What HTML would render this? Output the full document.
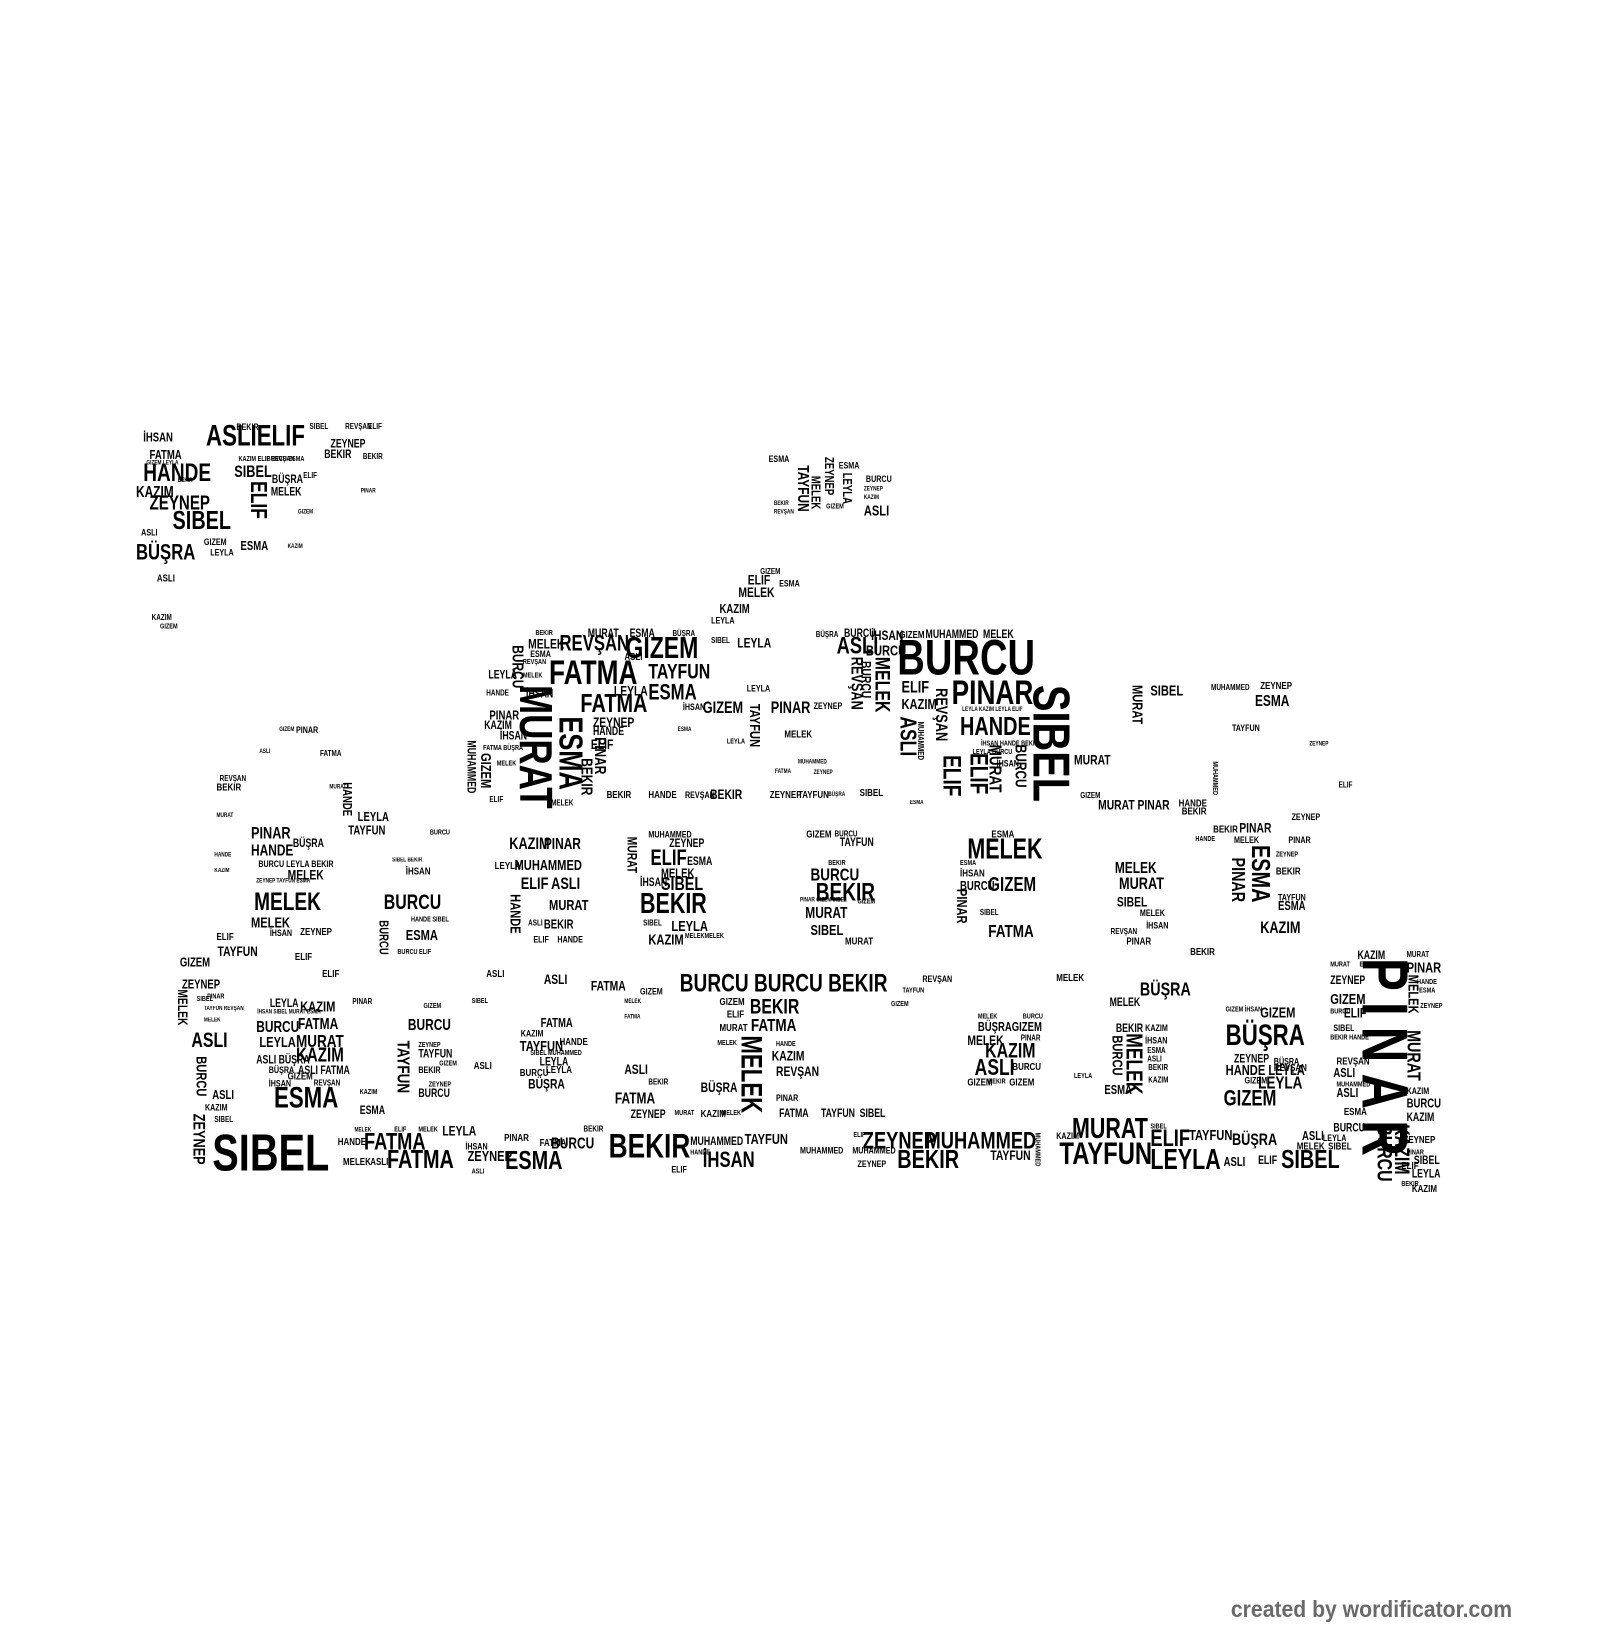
<!DOCTYPE html>
<html><head><meta charset="utf-8">
<style>
html,body{margin:0;padding:0;background:#fff;width:1600px;height:1640px;overflow:hidden}
#c{position:absolute;left:0;top:0;width:1530px;height:1570px;transform:scale(1.0458);transform-origin:0 0}
#c span{position:absolute;font-family:"Liberation Sans Narrow","Liberation Sans",sans-serif;font-weight:bold;line-height:1;white-space:nowrap;color:#000;transform:scaleX(.76);transform-origin:0 0}
#c span.v{writing-mode:vertical-rl;transform:scaleY(.76)}
#c span.f{color:#6a6a6a;transform:scaleX(.92)}
</style></head><body><div id="c">
<!-- top-left cluster -->
<span style="left:197px;top:403px;font-size:28px">ASLIELIF</span>
<span style="left:137px;top:441px;font-size:24px">HANDE</span>
<span style="left:143px;top:472px;font-size:19px">ZEYNEP</span>
<span style="left:165px;top:486px;font-size:25px">SIBEL</span>
<span style="left:130px;top:518px;font-size:21px">BÜŞRA</span>
<span style="left:130px;top:463px;font-size:15px">KAZIM</span>
<span style="left:224px;top:444px;font-size:16px">SIBEL</span>
<span style="left:143px;top:429px;font-size:12px">FATMA</span>
<span style="left:137px;top:412px;font-size:12px">İHSAN</span>
<span class="v" style="left:236px;top:460px;font-size:22px">ELIF</span>
<span style="left:226px;top:404px;font-size:9px">BEKIR</span>
<span style="left:296px;top:404px;font-size:8px">SIBEL</span>
<span style="left:330px;top:404px;font-size:8px">REVŞAN</span>
<span style="left:352px;top:404px;font-size:8px">ELIF</span>
<span style="left:316px;top:420px;font-size:11px">ZEYNEP</span>
<span style="left:310px;top:430px;font-size:11px">BEKIR</span>
<span style="left:347px;top:433px;font-size:8px">BEKIR</span>
<span style="left:259px;top:466px;font-size:11px">MELEK</span>
<span style="left:260px;top:454px;font-size:11px">BÜŞRA</span>
<span style="left:230px;top:516px;font-size:12px">ESMA</span>
<span style="left:195px;top:514px;font-size:9px">GIZEM</span>
<span style="left:135px;top:505px;font-size:9px">ASLI</span>
<span style="left:201px;top:524px;font-size:9px">LEYLA</span>
<span style="left:150px;top:549px;font-size:10px">ASLI</span>
<span style="left:145px;top:587px;font-size:8px">KAZIM</span>
<span style="left:153px;top:596px;font-size:7px">GIZEM</span>
<span style="left:290px;top:451px;font-size:8px">ELIF</span>
<span style="left:255px;top:436px;font-size:7px">BURCU ESMA</span>
<span style="left:228px;top:436px;font-size:7px">KAZIM ELIF REVŞAN</span>
<span style="left:140px;top:440px;font-size:6px">GIZEM LEYLA</span>
<span style="left:170px;top:457px;font-size:6px">BEKIR</span>
<span style="left:345px;top:467px;font-size:6px">PINAR</span>
<span style="left:285px;top:487px;font-size:6px">GIZEM</span>
<span style="left:275px;top:520px;font-size:6px">KAZIM</span>
<!-- top middle -->
<span style="left:735px;top:435px;font-size:9px">ESMA</span>
<span class="v" style="left:787px;top:437px;font-size:12px">ZEYNEP</span>
<span style="left:802px;top:441px;font-size:9px">ESMA</span>
<span class="v" style="left:760px;top:445px;font-size:15px">TAYFUN</span>
<span class="v" style="left:774px;top:455px;font-size:12px">MELEK</span>
<span class="v" style="left:804px;top:452px;font-size:12px">LEYLA</span>
<span style="left:828px;top:454px;font-size:9px">BURCU</span>
<span style="left:826px;top:481px;font-size:14px">ASLI</span>
<span style="left:790px;top:481px;font-size:7px">GIZEM</span>
<span style="left:740px;top:479px;font-size:6px">BEKIR</span>
<span style="left:740px;top:487px;font-size:6px">REVŞAN</span>
<span style="left:826px;top:465px;font-size:6px">ZEYNEP</span>
<span style="left:826px;top:473px;font-size:6px">KAZIM</span>
<!-- chimney -->
<span style="left:727px;top:543px;font-size:8px">GIZEM</span>
<span style="left:715px;top:548px;font-size:13px">ELIF</span>
<span style="left:745px;top:554px;font-size:9px">ESMA</span>
<span style="left:706px;top:560px;font-size:13px">MELEK</span>
<span style="left:688px;top:576px;font-size:12px">KAZIM</span>
<span style="left:680px;top:589px;font-size:9px">LEYLA</span>
<!-- main upper left -->
<span style="left:512px;top:602px;font-size:7px">BEKIR</span>
<span style="left:562px;top:601px;font-size:11px">MURAT</span>
<span style="left:602px;top:601px;font-size:11px">ESMA</span>
<span style="left:643px;top:602px;font-size:8px">BÜŞRA</span>
<span style="left:505px;top:609px;font-size:13px">MELEK</span>
<span style="left:507px;top:621px;font-size:9px">ESMA</span>
<span style="left:535px;top:605px;font-size:21px">REVŞAN</span>
<span style="left:597px;top:624px;font-size:10px">ASLI</span>
<span style="left:598px;top:606px;font-size:29px">GIZEM</span>
<span style="left:680px;top:609px;font-size:8px">SIBEL</span>
<span style="left:705px;top:608px;font-size:13px">LEYLA</span>
<span class="v" style="left:487px;top:617px;font-size:15px">BURCU</span>
<span style="left:525px;top:626px;font-size:33px">FATMA</span>
<span style="left:620px;top:633px;font-size:20px">TAYFUN</span>
<span style="left:467px;top:641px;font-size:11px">LEYLA</span>
<span style="left:503px;top:659px;font-size:11px">İHSAN</span>
<span style="left:587px;top:654px;font-size:13px">LEYLA</span>
<span style="left:620px;top:652px;font-size:21px">ESMA</span>
<span class="v" style="left:489px;top:655px;font-size:44px">MURAT</span>
<span style="left:555px;top:661px;font-size:25px">FATMA</span>
<span style="left:567px;top:684px;font-size:13px">ZEYNEP</span>
<span style="left:567px;top:695px;font-size:11px">HANDE</span>
<span style="left:565px;top:705px;font-size:13px">ELIF</span>
<span class="v" style="left:530px;top:685px;font-size:32px">ESMA</span>
<span class="v" style="left:566px;top:705px;font-size:15px">PINAR</span>
<span class="v" style="left:553px;top:725px;font-size:15px">BEKIR</span>
<span class="v" style="left:458px;top:720px;font-size:14px">GIZEM</span>
<span class="v" style="left:444px;top:708px;font-size:11px">MUHAMMED</span>
<span style="left:468px;top:678px;font-size:12px">PINAR</span>
<span style="left:463px;top:689px;font-size:11px">KAZIM</span>
<span style="left:478px;top:699px;font-size:11px">İHSAN</span>
<span style="left:465px;top:659px;font-size:8px">HANDE</span>
<span style="left:462px;top:712px;font-size:7px">FATMA BÜŞRA</span>
<span style="left:475px;top:727px;font-size:7px">MELEK</span>
<span style="left:500px;top:630px;font-size:7px">REVŞAN</span>
<span style="left:500px;top:643px;font-size:7px">MELEK</span>
<!-- center -->
<span style="left:653px;top:672px;font-size:9px">İHSAN</span>
<span style="left:672px;top:670px;font-size:16px">GIZEM</span>
<span style="left:737px;top:670px;font-size:16px">PINAR</span>
<span class="v" style="left:715px;top:673px;font-size:14px">TAYFUN</span>
<span style="left:778px;top:671px;font-size:9px">ZEYNEP</span>
<span style="left:714px;top:654px;font-size:9px">LEYLA</span>
<span style="left:750px;top:698px;font-size:10px">MELEK</span>
<span style="left:695px;top:706px;font-size:7px">LEYLA</span>
<span style="left:648px;top:695px;font-size:6px">ESMA</span>
<span style="left:763px;top:726px;font-size:6px">MUHAMMED</span>
<span style="left:741px;top:735px;font-size:6px">FATMA</span>
<span style="left:778px;top:736px;font-size:6px">ZEYNEP</span>
<!-- upper bottom row -->
<span style="left:580px;top:756px;font-size:10px">BEKIR</span>
<span style="left:620px;top:756px;font-size:10px">HANDE</span>
<span style="left:655px;top:756px;font-size:9px">REVŞAN</span>
<span style="left:679px;top:753px;font-size:13px">BEKIR</span>
<span style="left:736px;top:756px;font-size:10px">ZEYNEP</span>
<span style="left:763px;top:756px;font-size:10px">TAYFUN</span>
<span style="left:792px;top:757px;font-size:6px">BÜŞRA</span>
<span style="left:822px;top:754px;font-size:10px">SIBEL</span>
<span style="left:527px;top:764px;font-size:8px">MELEK</span>
<span style="left:468px;top:761px;font-size:8px">ELIF</span>
<span style="left:870px;top:765px;font-size:6px">ESMA</span>
<!-- main upper right -->
<span style="left:780px;top:603px;font-size:8px">BÜŞRA</span>
<span style="left:807px;top:601px;font-size:11px">BURCU</span>
<span style="left:833px;top:601px;font-size:13px">İHSAN</span>
<span style="left:860px;top:603px;font-size:10px">GIZEM</span>
<span style="left:885px;top:602px;font-size:11px">MUHAMMED</span>
<span style="left:940px;top:602px;font-size:11px">MELEK</span>
<span style="left:800px;top:606px;font-size:23px">ASLI</span>
<span style="left:828px;top:615px;font-size:14px">BURCU</span>
<span style="left:858px;top:606px;font-size:48px">BURCU</span>
<span class="v" style="left:810px;top:628px;font-size:16px">REVŞAN</span>
<span class="v" style="left:822px;top:632px;font-size:13px">BURCU</span>
<span class="v" style="left:833px;top:628px;font-size:20px">MELEK</span>
<span style="left:862px;top:650px;font-size:16px">ELIF</span>
<span style="left:862px;top:666px;font-size:14px">KAZIM</span>
<span class="v" style="left:857px;top:685px;font-size:22px">ASLI</span>
<span class="v" style="left:891px;top:658px;font-size:16px">REVŞAN</span>
<span style="left:910px;top:645px;font-size:33px">PINAR</span>
<span style="left:918px;top:683px;font-size:25px">HANDE</span>
<span class="v" style="left:980px;top:655px;font-size:50px">SIBEL</span>
<span class="v" style="left:897px;top:722px;font-size:24px">ELIF</span>
<span class="v" style="left:923px;top:720px;font-size:24px">ELIF</span>
<span class="v" style="left:943px;top:712px;font-size:17px">MURAT</span>
<span class="v" style="left:968px;top:712px;font-size:15px">BURCU</span>
<span style="left:953px;top:726px;font-size:9px">İHSAN</span>
<span class="v" style="left:876px;top:690px;font-size:8px">MUHAMMED</span>
<span style="left:920px;top:676px;font-size:6px">LEYLA KAZIM LEYLA ELIF</span>
<span style="left:938px;top:708px;font-size:7px">İHSAN HANDE BEKIR</span>
<span style="left:930px;top:716px;font-size:7px">LEYLA BURCU</span>
<!-- right outliers -->
<span class="v" style="left:1081px;top:655px;font-size:14px">MURAT</span>
<span style="left:1100px;top:653px;font-size:14px">SIBEL</span>
<span style="left:1158px;top:654px;font-size:8px">MUHAMMED</span>
<span style="left:1205px;top:652px;font-size:10px">ZEYNEP</span>
<span style="left:1200px;top:663px;font-size:15px">ESMA</span>
<span style="left:1178px;top:692px;font-size:9px">TAYFUN</span>
<span style="left:1252px;top:709px;font-size:6px">ZEYNEP</span>
<span style="left:1027px;top:720px;font-size:13px">MURAT</span>
<span style="left:1033px;top:757px;font-size:8px">GIZEM</span>
<span style="left:1050px;top:763px;font-size:13px">MURAT PINAR</span>
<span style="left:1127px;top:764px;font-size:10px">HANDE</span>
<span style="left:1130px;top:772px;font-size:10px">BEKIR</span>
<span style="left:1280px;top:747px;font-size:8px">ELIF</span>
<span class="v" style="left:1158px;top:728px;font-size:7px">MUHAMMED</span>
<!-- lower left building -->
<span style="left:267px;top:695px;font-size:6px">GIZEM</span>
<span style="left:283px;top:694px;font-size:9px">PINAR</span>
<span style="left:248px;top:716px;font-size:6px">ASLI</span>
<span style="left:306px;top:717px;font-size:8px">FATMA</span>
<span style="left:210px;top:741px;font-size:8px">REVŞAN</span>
<span style="left:207px;top:749px;font-size:10px">BEKIR</span>
<span style="left:315px;top:750px;font-size:6px">MURAT</span>
<span class="v" style="left:326px;top:748px;font-size:12px">HANDE</span>
<span style="left:342px;top:775px;font-size:12px">LEYLA</span>
<span style="left:333px;top:788px;font-size:12px">TAYFUN</span>
<span style="left:207px;top:777px;font-size:6px">MURAT</span>
<span style="left:411px;top:793px;font-size:7px">BURCU</span>
<span style="left:240px;top:790px;font-size:16px">PINAR</span>
<span style="left:280px;top:802px;font-size:11px">BÜŞRA</span>
<span style="left:240px;top:806px;font-size:15px">HANDE</span>
<span style="left:247px;top:822px;font-size:9px">BURCU LEYLA BEKIR</span>
<span style="left:275px;top:830px;font-size:13px">MELEK</span>
<span style="left:243px;top:851px;font-size:24px">MELEK</span>
<span style="left:240px;top:875px;font-size:14px">MELEK</span>
<span style="left:258px;top:888px;font-size:9px">İHSAN</span>
<span style="left:287px;top:887px;font-size:10px">ZEYNEP</span>
<span style="left:207px;top:892px;font-size:10px">ELIF</span>
<span style="left:208px;top:903px;font-size:13px">TAYFUN</span>
<span style="left:282px;top:911px;font-size:10px">ELIF</span>
<span style="left:308px;top:927px;font-size:10px">ELIF</span>
<span style="left:245px;top:840px;font-size:6px">ZEYNEP TAYFUN ESMA</span>
<span style="left:205px;top:815px;font-size:6px">HANDE</span>
<span style="left:205px;top:830px;font-size:6px">KAZIM</span>
<!-- window 1 -->
<span style="left:367px;top:853px;font-size:20px">BURCU</span>
<span style="left:388px;top:829px;font-size:10px">İHSAN</span>
<span style="left:375px;top:820px;font-size:6px">SIBEL BEKIR</span>
<span class="v" style="left:361px;top:880px;font-size:12px">BURCU</span>
<span style="left:388px;top:887px;font-size:14px">ESMA</span>
<span style="left:393px;top:876px;font-size:7px">HANDE SIBEL</span>
<span style="left:380px;top:907px;font-size:7px">BURCU ELIF</span>
<!-- window 2 -->
<span style="left:487px;top:800px;font-size:16px">KAZIM</span>
<span style="left:520px;top:800px;font-size:15px">PINAR</span>
<span style="left:473px;top:824px;font-size:10px">LEYLA</span>
<span style="left:492px;top:820px;font-size:14px">MUHAMMED</span>
<span style="left:498px;top:838px;font-size:16px">ELIF</span>
<span style="left:527px;top:838px;font-size:16px">ASLI</span>
<span class="v" style="left:486px;top:855px;font-size:14px">HANDE</span>
<span style="left:525px;top:858px;font-size:14px">MURAT</span>
<span style="left:520px;top:878px;font-size:12px">BEKIR</span>
<span style="left:505px;top:879px;font-size:8px">ASLI</span>
<span style="left:510px;top:894px;font-size:9px">ELIF</span>
<span style="left:533px;top:894px;font-size:9px">HANDE</span>
<!-- window 3 -->
<span style="left:620px;top:794px;font-size:9px">MUHAMMED</span>
<span style="left:640px;top:802px;font-size:11px">ZEYNEP</span>
<span style="left:622px;top:810px;font-size:21px">ELIF</span>
<span style="left:657px;top:819px;font-size:11px">ESMA</span>
<span class="v" style="left:598px;top:800px;font-size:13px">MURAT</span>
<span style="left:632px;top:829px;font-size:12px">MELEK</span>
<span style="left:612px;top:839px;font-size:11px">İHSAN</span>
<span style="left:632px;top:836px;font-size:18px">SIBEL</span>
<span style="left:612px;top:851px;font-size:27px">BEKIR</span>
<span style="left:642px;top:878px;font-size:14px">LEYLA</span>
<span style="left:620px;top:891px;font-size:14px">KAZIM</span>
<span style="left:615px;top:879px;font-size:8px">SIBEL</span>
<span style="left:655px;top:892px;font-size:7px">MELEKMELEK</span>
<!-- window 4 -->
<span style="left:771px;top:794px;font-size:10px">GIZEM</span>
<span style="left:798px;top:794px;font-size:8px">BURCU</span>
<span style="left:803px;top:801px;font-size:11px">TAYFUN</span>
<span style="left:792px;top:822px;font-size:7px">BEKIR</span>
<span style="left:775px;top:828px;font-size:17px">BURCU</span>
<span style="left:780px;top:842px;font-size:24px">BEKIR</span>
<span style="left:770px;top:866px;font-size:15px">MURAT</span>
<span style="left:775px;top:882px;font-size:14px">SIBEL</span>
<span style="left:808px;top:896px;font-size:10px">MURAT</span>
<span style="left:820px;top:859px;font-size:7px">GIZEM</span>
<span style="left:765px;top:858px;font-size:6px">PINAR GIZEM SIBEL</span>
<!-- window 5 -->
<span style="left:948px;top:794px;font-size:10px">ESMA</span>
<span style="left:925px;top:799px;font-size:27px">MELEK</span>
<span style="left:918px;top:831px;font-size:10px">İHSAN</span>
<span style="left:918px;top:841px;font-size:12px">BURCU</span>
<span style="left:945px;top:837px;font-size:19px">GIZEM</span>
<span class="v" style="left:913px;top:850px;font-size:14px">PINAR</span>
<span style="left:945px;top:882px;font-size:17px">FATMA</span>
<span style="left:937px;top:869px;font-size:8px">SIBEL</span>
<span style="left:918px;top:822px;font-size:7px">ESMA</span>
<!-- window 6 -->
<span style="left:1066px;top:823px;font-size:15px">MELEK</span>
<span style="left:1070px;top:838px;font-size:16px">MURAT</span>
<span style="left:1068px;top:856px;font-size:13px">SIBEL</span>
<span style="left:1090px;top:869px;font-size:9px">MELEK</span>
<span style="left:1096px;top:881px;font-size:9px">İHSAN</span>
<span style="left:1077px;top:896px;font-size:10px">PINAR</span>
<span style="left:1062px;top:887px;font-size:8px">REVŞAN</span>
<!-- window 7 -->
<span style="left:1185px;top:785px;font-size:13px">PINAR</span>
<span style="left:1160px;top:789px;font-size:10px">BEKIR</span>
<span style="left:1143px;top:799px;font-size:7px">HANDE</span>
<span style="left:1180px;top:799px;font-size:9px">MELEK</span>
<span style="left:1235px;top:777px;font-size:9px">ZEYNEP</span>
<span style="left:1232px;top:799px;font-size:9px">PINAR</span>
<span class="v" style="left:1192px;top:808px;font-size:25px">ESMA</span>
<span class="v" style="left:1175px;top:820px;font-size:18px">PINAR</span>
<span style="left:1220px;top:829px;font-size:10px">BEKIR</span>
<span style="left:1222px;top:854px;font-size:9px">TAYFUN</span>
<span style="left:1222px;top:860px;font-size:12px">ESMA</span>
<span style="left:1205px;top:880px;font-size:16px">KAZIM</span>
<span style="left:1220px;top:814px;font-size:7px">ZEYNEP</span>
<!-- bottom band top -->
<span style="left:1138px;top:906px;font-size:10px">BEKIR</span>
<span style="left:1010px;top:931px;font-size:10px">MELEK</span>
<span style="left:465px;top:927px;font-size:10px">ASLI</span>
<span style="left:520px;top:930px;font-size:13px">ASLI</span>
<span style="left:565px;top:936px;font-size:13px">FATMA</span>
<span style="left:612px;top:944px;font-size:9px">GIZEM</span>
<span style="left:650px;top:929px;font-size:24px">BURCU BURCU BEKIR</span>
<span style="left:882px;top:932px;font-size:9px">REVŞAN</span>
<span style="left:863px;top:944px;font-size:7px">TAYFUN</span>
<span style="left:852px;top:957px;font-size:7px">GIZEM</span>
<span style="left:337px;top:954px;font-size:8px">PINAR</span>
<span style="left:451px;top:954px;font-size:7px">SIBEL</span>
<span style="left:1090px;top:937px;font-size:18px">BÜŞRA</span>
<span style="left:1061px;top:954px;font-size:11px">MELEK</span>
<!-- left strip -->
<span style="left:172px;top:914px;font-size:12px">GIZEM</span>
<span style="left:174px;top:935px;font-size:12px">ZEYNEP</span>
<span class="v" style="left:168px;top:946px;font-size:13px">MELEK</span>
<span style="left:188px;top:952px;font-size:7px">SIBEL</span>
<span style="left:198px;top:950px;font-size:7px">PINAR</span>
<span style="left:183px;top:985px;font-size:20px">ASLI</span>
<span class="v" style="left:186px;top:1010px;font-size:14px">BURCU</span>
<span style="left:203px;top:1041px;font-size:12px">ASLI</span>
<span style="left:196px;top:1055px;font-size:9px">KAZIM</span>
<span class="v" style="left:181px;top:1065px;font-size:16px">ZEYNEP</span>
<span style="left:205px;top:1067px;font-size:8px">SIBEL</span>
<span style="left:195px;top:962px;font-size:6px">TAYFUN REVŞAN</span>
<span style="left:195px;top:973px;font-size:6px">MELEK</span>
<!-- box A -->
<span style="left:258px;top:955px;font-size:11px">LEYLA</span>
<span style="left:287px;top:955px;font-size:14px">KAZIM</span>
<span style="left:285px;top:972px;font-size:15px">FATMA</span>
<span style="left:245px;top:975px;font-size:15px">BURCU</span>
<span style="left:248px;top:989px;font-size:14px">LEYLA</span>
<span style="left:283px;top:987px;font-size:17px">MURAT</span>
<span style="left:245px;top:1009px;font-size:11px">ASLI BÜŞRA</span>
<span style="left:283px;top:1000px;font-size:19px">KAZIM</span>
<span style="left:257px;top:1019px;font-size:9px">BÜŞRA</span>
<span style="left:285px;top:1019px;font-size:11px">ASLI FATMA</span>
<span style="left:275px;top:1025px;font-size:10px">GIZEM</span>
<span style="left:257px;top:1032px;font-size:9px">İHSAN</span>
<span style="left:300px;top:1032px;font-size:8px">REVŞAN</span>
<span style="left:262px;top:1036px;font-size:28px">ESMA</span>
<span style="left:246px;top:965px;font-size:6px">İHSAN SIBEL MURAT ESMA</span>
<!-- box B -->
<span style="left:390px;top:973px;font-size:15px">BURCU</span>
<span style="left:405px;top:959px;font-size:7px">GIZEM</span>
<span class="v" style="left:377px;top:995px;font-size:17px">TAYFUN</span>
<span style="left:400px;top:996px;font-size:7px">ZEYNEP</span>
<span style="left:400px;top:1003px;font-size:11px">TAYFUN</span>
<span style="left:420px;top:1014px;font-size:7px">GIZEM</span>
<span style="left:400px;top:1019px;font-size:9px">BEKIR</span>
<span style="left:410px;top:1034px;font-size:7px">ZEYNEP</span>
<span style="left:400px;top:1041px;font-size:11px">BURCU</span>
<span style="left:453px;top:1015px;font-size:10px">ASLI</span>
<span style="left:344px;top:1041px;font-size:7px">KAZIM</span>
<span style="left:344px;top:1057px;font-size:11px">ESMA</span>
<!-- box C -->
<span style="left:517px;top:972px;font-size:12px">FATMA</span>
<span style="left:498px;top:984px;font-size:9px">KAZIM</span>
<span style="left:497px;top:993px;font-size:14px">TAYFUN</span>
<span style="left:535px;top:992px;font-size:10px">HANDE</span>
<span style="left:507px;top:1004px;font-size:7px">SIBEL MUHAMMED</span>
<span style="left:516px;top:1011px;font-size:11px">LEYLA</span>
<span style="left:497px;top:1022px;font-size:10px">BURCU</span>
<span style="left:522px;top:1019px;font-size:10px">LEYLA</span>
<span style="left:505px;top:1030px;font-size:13px">BÜŞRA</span>
<!-- mid -->
<span style="left:597px;top:1016px;font-size:13px">ASLI</span>
<span style="left:620px;top:1031px;font-size:8px">BEKIR</span>
<span style="left:588px;top:1043px;font-size:15px">FATMA</span>
<span style="left:603px;top:1061px;font-size:11px">ZEYNEP</span>
<span style="left:670px;top:1061px;font-size:10px">KAZIM</span>
<span style="left:645px;top:1061px;font-size:7px">MURAT</span>
<span style="left:690px;top:1061px;font-size:7px">MELEK</span>
<span style="left:597px;top:955px;font-size:6px">MELEK</span>
<span style="left:597px;top:970px;font-size:6px">FATMA</span>
<!-- box D -->
<span style="left:688px;top:954px;font-size:10px">GIZEM</span>
<span style="left:717px;top:953px;font-size:20px">BEKIR</span>
<span style="left:695px;top:966px;font-size:10px">ELIF</span>
<span style="left:688px;top:979px;font-size:10px">MURAT</span>
<span style="left:718px;top:972px;font-size:17px">FATMA</span>
<span class="v" style="left:704px;top:990px;font-size:28px">MELEK</span>
<span style="left:738px;top:1003px;font-size:13px">KAZIM</span>
<span style="left:742px;top:1018px;font-size:13px">REVŞAN</span>
<span style="left:670px;top:1033px;font-size:13px">BÜŞRA</span>
<span style="left:742px;top:1046px;font-size:9px">PINAR</span>
<span style="left:745px;top:1060px;font-size:11px">FATMA</span>
<span style="left:785px;top:1060px;font-size:11px">TAYFUN</span>
<span style="left:822px;top:1060px;font-size:11px">SIBEL</span>
<span style="left:742px;top:995px;font-size:7px">HANDE</span>
<span style="left:686px;top:994px;font-size:7px">MELEK</span>
<!-- box E -->
<span style="left:935px;top:969px;font-size:7px">MELEK</span>
<span style="left:978px;top:969px;font-size:7px">BURCU</span>
<span style="left:935px;top:976px;font-size:12px">BÜŞRAGIZEM</span>
<span style="left:925px;top:988px;font-size:13px">MELEK</span>
<span style="left:976px;top:989px;font-size:8px">PINAR</span>
<span style="left:942px;top:995px;font-size:20px">KAZIM</span>
<span style="left:932px;top:1010px;font-size:22px">ASLI</span>
<span style="left:968px;top:1016px;font-size:10px">BURCU</span>
<span style="left:925px;top:1031px;font-size:10px">GIZEM</span>
<span style="left:945px;top:1031px;font-size:7px">BEKIR</span>
<span style="left:965px;top:1031px;font-size:10px">GIZEM</span>
<!-- box F -->
<span style="left:1067px;top:979px;font-size:11px">BEKIR</span>
<span style="left:1095px;top:979px;font-size:9px">KAZIM</span>
<span style="left:1095px;top:991px;font-size:9px">İHSAN</span>
<span class="v" style="left:1073px;top:988px;font-size:22px">MELEK</span>
<span class="v" style="left:1062px;top:990px;font-size:14px">BURCU</span>
<span style="left:1097px;top:1001px;font-size:8px">ESMA</span>
<span style="left:1097px;top:1009px;font-size:8px">ASLI</span>
<span style="left:1098px;top:1017px;font-size:8px">BEKIR</span>
<span style="left:1056px;top:1036px;font-size:12px">ESMA</span>
<span style="left:1098px;top:1029px;font-size:8px">KAZIM</span>
<!-- box G -->
<span style="left:1205px;top:961px;font-size:14px">GIZEM</span>
<span style="left:1172px;top:962px;font-size:7px">GIZEM İHSAN</span>
<span style="left:1172px;top:976px;font-size:28px">BÜŞRA</span>
<span style="left:1180px;top:1008px;font-size:11px">ZEYNEP</span>
<span style="left:1218px;top:1011px;font-size:9px">BÜŞRA</span>
<span style="left:1172px;top:1016px;font-size:14px">HANDE LEYLA</span>
<span style="left:1218px;top:1017px;font-size:10px">REVŞAN</span>
<span style="left:1190px;top:1029px;font-size:9px">GIZEM</span>
<span style="left:1203px;top:1027px;font-size:17px">LEYLA</span>
<span style="left:1170px;top:1040px;font-size:21px">GIZEM</span>
<span style="left:1027px;top:1026px;font-size:7px">LEYLA</span>
<!-- bottom row -->
<span style="left:203px;top:1077px;font-size:50px">SIBEL</span>
<span style="left:323px;top:1088px;font-size:10px">HANDE</span>
<span style="left:348px;top:1080px;font-size:23px">FATMA</span>
<span style="left:328px;top:1107px;font-size:10px">MELEK</span>
<span style="left:354px;top:1107px;font-size:10px">ASLI</span>
<span style="left:370px;top:1097px;font-size:25px">FATMA</span>
<span style="left:339px;top:1078px;font-size:6px">MELEK</span>
<span style="left:377px;top:1077px;font-size:7px">ELIF</span>
<span style="left:400px;top:1077px;font-size:7px">MELEK</span>
<span style="left:423px;top:1075px;font-size:13px">LEYLA</span>
<span style="left:445px;top:1092px;font-size:9px">İHSAN</span>
<span style="left:447px;top:1098px;font-size:14px">ZEYNEP</span>
<span style="left:483px;top:1098px;font-size:25px">ESMA</span>
<span style="left:482px;top:1084px;font-size:10px">PINAR</span>
<span style="left:516px;top:1089px;font-size:10px">FATMA</span>
<span style="left:527px;top:1086px;font-size:15px">BURCU</span>
<span style="left:558px;top:1076px;font-size:8px">BEKIR</span>
<span style="left:451px;top:1117px;font-size:7px">ASLI</span>
<span style="left:642px;top:1114px;font-size:9px">ELIF</span>
<span style="left:582px;top:1079px;font-size:33px">BEKIR</span>
<span style="left:660px;top:1087px;font-size:11px">MUHAMMED</span>
<span style="left:712px;top:1082px;font-size:14px">TAYFUN</span>
<span style="left:660px;top:1099px;font-size:7px">HANDE</span>
<span style="left:672px;top:1099px;font-size:21px">İHSAN</span>
<span style="left:765px;top:1096px;font-size:9px">MUHAMMED</span>
<span style="left:815px;top:1096px;font-size:9px">MUHAMMED</span>
<span style="left:820px;top:1109px;font-size:9px">ZEYNEP</span>
<span style="left:816px;top:1082px;font-size:7px">ELIF</span>
<span style="left:825px;top:1079px;font-size:23px">ZEYNEP</span>
<span style="left:885px;top:1079px;font-size:23px">MUHAMMED</span>
<span style="left:858px;top:1097px;font-size:25px">BEKIR</span>
<span style="left:947px;top:1098px;font-size:13px">TAYFUN</span>
<span class="v" style="left:988px;top:1083px;font-size:7px">MUHAMMED</span>
<span style="left:1010px;top:1082px;font-size:9px">KAZIM</span>
<span style="left:1025px;top:1066px;font-size:27px">MURAT</span>
<span style="left:1013px;top:1089px;font-size:30px">TAYFUN</span>
<span style="left:1100px;top:1077px;font-size:23px">ELIF</span>
<span style="left:1137px;top:1078px;font-size:14px">TAYFUN</span>
<span style="left:1178px;top:1083px;font-size:16px">BÜŞRA</span>
<span style="left:1100px;top:1096px;font-size:27px">LEYLA</span>
<span style="left:1170px;top:1105px;font-size:12px">ASLI</span>
<span style="left:1203px;top:1105px;font-size:11px">ELIF</span>
<span style="left:1225px;top:1097px;font-size:25px">SIBEL</span>
<span style="left:1245px;top:1080px;font-size:12px">ASLI</span>
<span style="left:1240px;top:1092px;font-size:10px">MELEK</span>
<span style="left:1100px;top:1074px;font-size:7px">SIBEL</span>
<!-- right strip -->
<span style="left:1298px;top:909px;font-size:11px">KAZIM</span>
<span style="left:1272px;top:919px;font-size:7px">MURAT</span>
<span style="left:1300px;top:919px;font-size:7px">ELIF</span>
<span style="left:1345px;top:909px;font-size:8px">MURAT</span>
<span style="left:1345px;top:918px;font-size:14px">PINAR</span>
<span style="left:1355px;top:936px;font-size:7px">HANDE</span>
<span style="left:1357px;top:944px;font-size:7px">ESMA</span>
<span style="left:1272px;top:933px;font-size:11px">ZEYNEP</span>
<span style="left:1272px;top:948px;font-size:14px">GIZEM</span>
<span class="v" style="left:1345px;top:932px;font-size:14px">MELEK</span>
<span style="left:1358px;top:959px;font-size:7px">ZEYNEP</span>
<span style="left:1272px;top:964px;font-size:7px">BURCU</span>
<span style="left:1285px;top:962px;font-size:13px">ELIF</span>
<span style="left:1275px;top:979px;font-size:9px">SIBEL</span>
<span style="left:1272px;top:989px;font-size:7px">BEKIR HANDE</span>
<span class="v" style="left:1343px;top:985px;font-size:18px">MURAT</span>
<span style="left:1278px;top:1011px;font-size:10px">REVŞAN</span>
<span style="left:1275px;top:1020px;font-size:12px">ASLI</span>
<span style="left:1278px;top:1034px;font-size:7px">MUHAMMED</span>
<span style="left:1278px;top:1039px;font-size:12px">ASLI</span>
<span style="left:1285px;top:1059px;font-size:10px">ESMA</span>
<span style="left:1345px;top:1039px;font-size:9px">KAZIM</span>
<span style="left:1345px;top:1049px;font-size:12px">BURCU</span>
<span style="left:1345px;top:1064px;font-size:11px">KAZIM</span>
<span style="left:1275px;top:1074px;font-size:11px">BURCU</span>
<span style="left:1265px;top:1084px;font-size:9px">LEYLA</span>
<span style="left:1270px;top:1092px;font-size:10px">SIBEL</span>
<span style="left:1342px;top:1086px;font-size:10px">ZEYNEP</span>
<span style="left:1345px;top:1099px;font-size:7px">PINAR</span>
<span style="left:1340px;top:1111px;font-size:10px">ELIF</span>
<span style="left:1352px;top:1105px;font-size:11px">SIBEL</span>
<span style="left:1350px;top:1118px;font-size:11px">LEYLA</span>
<span style="left:1340px;top:1129px;font-size:7px">BEKIR</span>
<span style="left:1350px;top:1133px;font-size:10px">KAZIM</span>
<span class="v" style="left:1292px;top:916px;font-size:62px;letter-spacing:14px">PINAR</span>
<span class="v" style="left:1313px;top:1075px;font-size:20px">BURCU</span>
<span class="v" style="left:1330px;top:1075px;font-size:20px">KAZIM</span>
<!-- footer -->
<span class="f" style="left:1177px;top:1528px;font-size:22px">created by wordificator.com</span>
</div></body></html>
